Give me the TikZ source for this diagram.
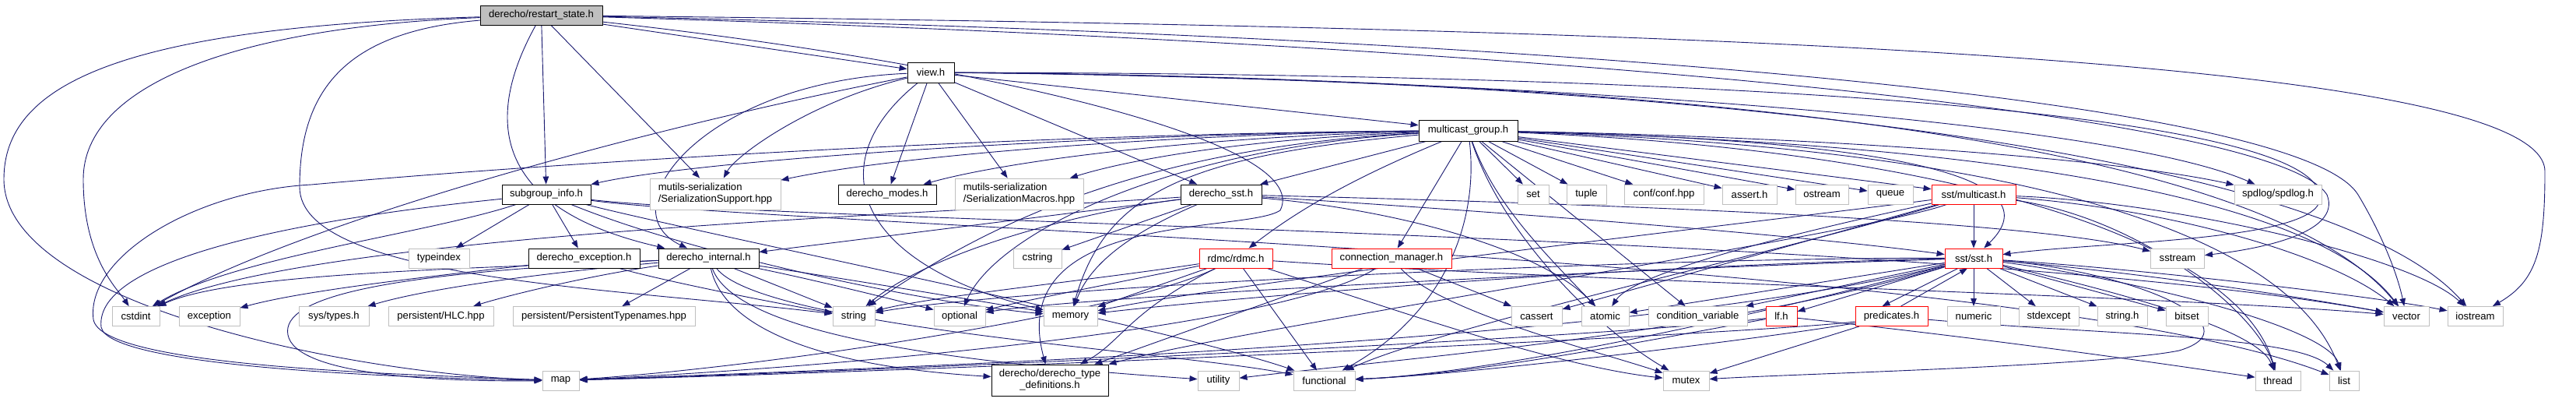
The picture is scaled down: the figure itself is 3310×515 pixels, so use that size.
\documentclass[tikz,border=0pt]{standalone}
\usepackage{fontspec}
\setmainfont{Liberation Sans}
\usetikzlibrary{arrows.meta}
\pgfdeclarelayer{bg}
\pgfsetlayers{bg,main}
\definecolor{edgec}{HTML}{191970}
\definecolor{extgray}{HTML}{BFBFBF}
\begin{document}
\begin{tikzpicture}[x=1pt,y=-1pt,
  font=\fontsize{13.1}{15}\selectfont,
  box/.style={draw, line width=0.9pt, fill=white, minimum height=25pt, inner sep=0pt, anchor=center},
  rootn/.style={box, draw=black, fill=extgray},
  intn/.style={box, draw=black},
  redn/.style={box, draw=red},
  extn/.style={box, draw=extgray},
  e/.style={draw=edgec, line width=0.9pt, -{Triangle[length=10pt,width=7.5pt]}}]
\useasboundingbox (0,0) rectangle (3310,515);
% row 0
\node[rootn, minimum width=157pt] (R) at (695.5,19.5) {derecho/restart\_state.h};
\node[intn, minimum width=60pt, minimum height=26pt] (view) at (1196,93) {view.h};
\node[intn, minimum width=127pt, minimum height=27pt] (M) at (1886.5,167.5) {multicast\_group.h};
% row 2
\node[intn, minimum width=114pt] (sub) at (702,249.5) {subgroup\_info.h};
\node[extn, minimum width=168pt, minimum height=40pt, align=left] (sers) at (919,249) {mutils-serialization\\/SerializationSupport.hpp};
\node[intn, minimum width=126pt] (modes) at (1140,249.5) {derecho\_modes.h};
\node[extn, minimum width=165pt, minimum height=40pt, align=left] (serm) at (1309.5,249) {mutils-serialization\\/SerializationMacros.hpp};
\node[intn, minimum width=104pt] (dsst) at (1569,249.5) {derecho\_sst.h};
\node[extn, minimum width=40pt] (set) at (1970,249.5) {set};
\node[extn, minimum width=51pt] (tuple) at (2038.5,249.5) {tuple};
\node[extn, minimum width=102pt] (conf) at (2138,249.5) {conf/conf.hpp};
\node[extn, minimum width=70pt] (asserth) at (2248,249.5) {assert.h};
\node[extn, minimum width=68pt] (ostream) at (2341,249.5) {ostream};
\node[extn, minimum width=58pt] (queue) at (2429,249.5) {queue};
\node[redn, minimum width=108pt] (mcast) at (2536,249.5) {sst/multicast.h};
\node[extn, minimum width=112pt] (spdlog) at (2927,249.5) {spdlog/spdlog.h};
% row 3
\node[extn, minimum width=78pt] (typeindex) at (564,331.5) {typeindex};
\node[intn, minimum width=143pt] (dexc) at (750.5,331.5) {derecho\_exception.h};
\node[intn, minimum width=129pt] (dint) at (910.5,331.5) {derecho\_internal.h};
\node[extn, minimum width=62pt] (cstring) at (1333,331.5) {cstring};
\node[redn, minimum width=94pt] (rdmc) at (1588,331.5) {rdmc/rdmc.h};
\node[redn, minimum width=154pt] (conn) at (1788,331.5) {connection\_manager.h};
\node[redn, minimum width=74pt] (sst) at (2536,331.5) {sst/sst.h};
\node[extn, minimum width=69pt] (sstream) at (2798,331.5) {sstream};
% row 4
\node[extn, minimum width=61pt] (cstdint) at (174.5,406) {cstdint};
\node[extn, minimum width=78pt] (exception) at (269,406) {exception};
\node[extn, minimum width=90pt] (systypes) at (429,406) {sys/types.h};
\node[extn, minimum width=135pt] (hlc) at (566.5,406) {persistent/HLC.hpp};
\node[extn, minimum width=234pt] (ptn) at (776,406) {persistent/PersistentTypenames.hpp};
\node[extn, minimum width=54pt] (string) at (1097,406) {string};
\node[extn, minimum width=66pt] (optional) at (1233,406) {optional};
\node[extn, minimum width=69pt] (memory) at (1375.5,406) {memory};
\node[extn, minimum width=65pt] (cassert) at (1974.5,406) {cassert};
\node[extn, minimum width=61pt] (atomic) at (2062.5,406) {atomic};
\node[extn, minimum width=127pt] (condvar) at (2181.5,406) {condition\_variable};
\node[redn, minimum width=40pt] (lf) at (2289,406) {lf.h};
\node[redn, minimum width=93pt] (pred) at (2430.5,406) {predicates.h};
\node[extn, minimum width=68pt] (numeric) at (2536,406) {numeric};
\node[extn, minimum width=77pt] (stdexcept) at (2632.5,406) {stdexcept};
\node[extn, minimum width=64pt] (stringh) at (2727,406) {string.h};
\node[extn, minimum width=54pt] (bitset) at (2810,406) {bitset};
\node[extn, minimum width=58pt] (vector) at (3092,406) {vector};
\node[extn, minimum width=71pt] (iostream) at (3180.5,406) {iostream};
% row 5
\node[extn, minimum width=47pt] (map) at (720.5,488.5) {map};
\node[intn, minimum width=150pt, minimum height=40pt, align=center] (dtd) at (1349,488) {derecho/derecho\_type\\\_definitions.h};
\node[extn, minimum width=53pt] (utility) at (1565.5,488.5) {utility};
\node[extn, minimum width=79pt] (functional) at (1701.5,488.5) {functional};
\node[extn, minimum width=59pt] (mutex) at (2166.5,488.5) {mutex};
\node[extn, minimum width=58pt] (thread) at (2927,488.5) {thread};
\node[extn, minimum width=38pt] (list) at (3012,488.5) {list};

\begin{pgfonlayer}{bg}
\fill[white] (0,0) rectangle (3310,515);
% restart_state.h
\draw[e] (R) .. controls (150,35) and (5,110) .. (5,230) .. controls (5,390) and (450,480) .. (map);
\draw[e] (R) .. controls (300,35) and (107,110) .. (107,230) .. controls (107,330) and (150,370) .. (cstdint);
\draw[e] (R) .. controls (450,40) and (385,110) .. (385,240) .. controls (385,360) and (800,370) .. (string);
\draw[e] (R) .. controls (640,120) and (600,260) .. (dint);
\draw[e] (R) -- (sub);
\draw[e] (R) -- (sers);
\draw[e] (R) -- (view);
\draw[e] (R) .. controls (1250,80) and (1690,180) .. (1645,270) .. controls (1600,300) and (1290,270) .. (dtd);
\draw[e] (R) .. controls (2100,35) and (3270,70) .. (3270,220) .. controls (3270,320) and (3260,360) .. (iostream);
\draw[e] (R) .. controls (1900,45) and (2950,120) .. (3030,250) .. controls (3060,300) and (3080,350) .. (vector);
\draw[e] (R) .. controls (1900,55) and (2920,140) .. (2990,250) .. controls (3010,300) and (2900,320) .. (sstream);
% view.h
\draw[e] (view) -- (M);
\draw[e] (view) -- (dsst);
\draw[e] (view) .. controls (900,105) and (780,270) .. (dint);
\draw[e] (view) .. controls (800,170) and (380,290) .. (cstdint);
\draw[e] (view) .. controls (1040,130) and (945,200) .. (sers);
\draw[e] (view) -- (modes);
\draw[e] (view) -- (serm);
\draw[e] (view) .. controls (1050,210) and (1100,340) .. (memory);
\draw[e] (view) .. controls (1900,100) and (2700,150) .. (spdlog);
\draw[e] (view) .. controls (2100,100) and (2900,170) .. (vector);
\draw[e] (view) .. controls (2200,100) and (3000,200) .. (iostream);
\draw[e] (view) .. controls (2300,95) and (3010,150) .. (2980,260) .. controls (2960,310) and (2700,310) .. (sst);
% multicast_group.h
\draw[e] (M) .. controls (1400,172) and (900,205) .. (sub);
\draw[e] (M) .. controls (1300,172) and (700,210) .. (400,237) .. controls (250,245) and (110,330) .. (120,410) .. controls (130,470) and (500,480) .. (map);
\draw[e] (M) .. controls (1500,172) and (1150,200) .. (sers);
\draw[e] (M) .. controls (1550,175) and (1300,205) .. (modes);
\draw[e] (M) .. controls (1600,178) and (1450,205) .. (serm);
\draw[e] (M) -- (dsst);
\draw[e] (M) .. controls (1520,200) and (1420,250) .. (memory);
\draw[e] (M) .. controls (1450,190) and (1250,300) .. (string);
\draw[e] (M) .. controls (1500,190) and (1280,300) .. (optional);
\draw[e] (M) .. controls (1760,220) and (1680,260) .. (rdmc);
\draw[e] (M) -- (conn);
\draw[e] (M) .. controls (1900,280) and (1860,400) .. (functional);
\draw[e] (M) .. controls (1920,260) and (1980,320) .. (atomic);
\draw[e] (M) -- (condvar);
\draw[e] (M) -- (set);
\draw[e] (M) -- (tuple);
\draw[e] (M) -- (conf);
\draw[e] (M) -- (asserth);
\draw[e] (M) -- (ostream);
\draw[e] (M) -- (queue);
\draw[e] (M) -- (mcast);
\draw[e] (M) .. controls (2450,180) and (2640,230) .. (sst);
\draw[e] (M) .. controls (2300,175) and (2700,200) .. (spdlog);
\draw[e] (M) .. controls (2600,185) and (2980,260) .. (vector);
\draw[e] (M) .. controls (2600,190) and (2940,300) .. (list);
\draw[e] (M) .. controls (2550,195) and (2880,320) .. (thread);
\draw[e] (M) .. controls (1930,300) and (2050,420) .. (mutex);
% derecho_sst.h
\draw[e] (dsst) -- (dint);
\draw[e] (dsst) -- (cstring);
\draw[e] (dsst) .. controls (1900,270) and (2300,300) .. (sst);
\draw[e] (dsst) .. controls (2000,260) and (2600,280) .. (sstream);
\draw[e] (dsst) .. controls (1400,270) and (1200,320) .. (string);
\draw[e] (dsst) .. controls (1450,300) and (1400,340) .. (memory);
\draw[e] (dsst) .. controls (1200,275) and (400,300) .. (cstdint);
\draw[e] (dsst) .. controls (1800,270) and (1980,320) .. (atomic);
% subgroup_info.h
\draw[e] (sub) -- (typeindex);
\draw[e] (sub) -- (dexc);
\draw[e] (sub) .. controls (550,300) and (300,330) .. (cstdint);
\draw[e] (sub) .. controls (400,280) and (120,330) .. (130,420) .. controls (140,470) and (500,485) .. (map);
\draw[e] (sub) .. controls (900,330) and (1200,390) .. (memory);
\draw[e] (sub) .. controls (1000,285) and (2500,300) .. (vector);
\draw[e] (sub) .. controls (1000,290) and (2600,330) .. (list);
\draw[e] (sub) .. controls (900,300) and (1500,420) .. (functional);
% derecho_exception.h
\draw[e] (dexc) .. controls (600,350) and (400,370) .. (exception);
\draw[e] (dexc) .. controls (850,360) and (1000,390) .. (string);
% derecho_internal.h
\draw[e] (dint) .. controls (600,345) and (300,350) .. (cstdint);
\draw[e] (dint) .. controls (700,350) and (550,370) .. (systypes);
\draw[e] (dint) .. controls (750,355) and (650,380) .. (hlc);
\draw[e] (dint) -- (ptn);
\draw[e] (dint) -- (string);
\draw[e] (dint) .. controls (1050,360) and (1150,385) .. (optional);
\draw[e] (dint) .. controls (1100,360) and (1250,385) .. (memory);
\draw[e] (dint) .. controls (930,420) and (1050,470) .. (dtd);
\draw[e] (dint) .. controls (950,440) and (1300,470) .. (utility);
\draw[e] (dint) .. controls (980,420) and (1500,450) .. (functional);
\draw[e] (dint) .. controls (500,350) and (360,380) .. (370,430) .. controls (380,480) and (550,490) .. (map);
% rdmc/rdmc.h
\draw[e] (rdmc) -- (memory);
\draw[e] (rdmc) .. controls (1400,360) and (1200,380) .. (string);
\draw[e] (rdmc) .. controls (1450,360) and (1320,385) .. (optional);
\draw[e] (rdmc) .. controls (1450,400) and (1000,470) .. (map);
\draw[e] (rdmc) -- (functional);
\draw[e] (rdmc) .. controls (1800,400) and (2000,470) .. (mutex);
\draw[e] (rdmc) .. controls (2000,360) and (2800,380) .. (vector);
\draw[e] (rdmc) .. controls (1450,400) and (1440,440) .. (dtd);
% connection_manager.h
\draw[e] (conn) -- (dtd);
\draw[e] (conn) .. controls (1650,420) and (1100,470) .. (map);
\draw[e] (conn) .. controls (1850,400) and (2050,450) .. (mutex);
\draw[e] (conn) -- (cassert);
% sst/multicast.h
\draw[e] (mcast) -- (sst);
\draw[e] (mcast) -- (cassert);
\draw[e] (mcast) .. controls (2300,300) and (2100,350) .. (atomic);
\draw[e] (mcast) .. controls (2300,280) and (1600,360) .. (memory);
\draw[e] (mcast) .. controls (2300,320) and (1850,420) .. (functional);
\draw[e] (mcast) .. controls (2800,270) and (3000,330) .. (vector);
\draw[e] (mcast) .. controls (2800,260) and (3100,330) .. (iostream);
\draw[e] (mcast) .. controls (2750,280) and (2900,400) .. (thread);
\draw[e] (mcast) .. controls (2400,300) and (1600,420) .. (dtd);
% sst/sst.h
\draw[e] (sst) -- (atomic);
\draw[e] (sst) -- (condvar);
\draw[e] (sst) -- (lf);
\draw[e] ([xshift=-20pt]sst.south) -- ([xshift=-12pt]pred.north);
\draw[e] ([xshift=12pt]pred.north) -- ([xshift=-8pt]sst.south);
\draw[e] (sst) -- (numeric);
\draw[e] (sst) -- (stdexcept);
\draw[e] (sst) -- (stringh);
\draw[e] (sst) -- (bitset);
\draw[e] (sst) .. controls (2750,350) and (2950,380) .. (vector);
\draw[e] (sst) .. controls (2750,345) and (3050,380) .. (iostream);
\draw[e] (sst) .. controls (2700,370) and (2900,420) .. (thread);
\draw[e] (sst) .. controls (2750,360) and (2990,420) .. (list);
\draw[e] (sst) .. controls (2750,350) and (2900,420) .. (2800,450) .. controls (2700,470) and (2300,480) .. (mutex);
\draw[e] (sst) .. controls (2100,340) and (1600,380) .. (memory);
\draw[e] (sst) .. controls (2100,330) and (1300,370) .. (string);
\draw[e] (sst) .. controls (2100,345) and (1400,380) .. (optional);
\draw[e] (sst) .. controls (2200,420) and (1900,480) .. (functional);
\draw[e] (sst) .. controls (2100,440) and (1200,470) .. (map);
\draw[e] (sst) .. controls (2200,430) and (1800,460) .. (utility);
% lf.h
\draw[e] (lf) .. controls (2100,440) and (1900,480) .. (functional);
\draw[e] (lf) .. controls (2100,430) and (1300,470) .. (map);
\draw[e] (lf) .. controls (2600,440) and (2800,470) .. (thread);
% predicates.h
\draw[e] (pred) -- (mutex);
\draw[e] (pred) .. controls (2300,430) and (1900,480) .. (functional);
\draw[e] (pred) .. controls (2300,425) and (1400,470) .. (map);
\draw[e] (pred) .. controls (2700,430) and (2950,430) .. (list);
\end{pgfonlayer}
\end{tikzpicture}
\end{document}
